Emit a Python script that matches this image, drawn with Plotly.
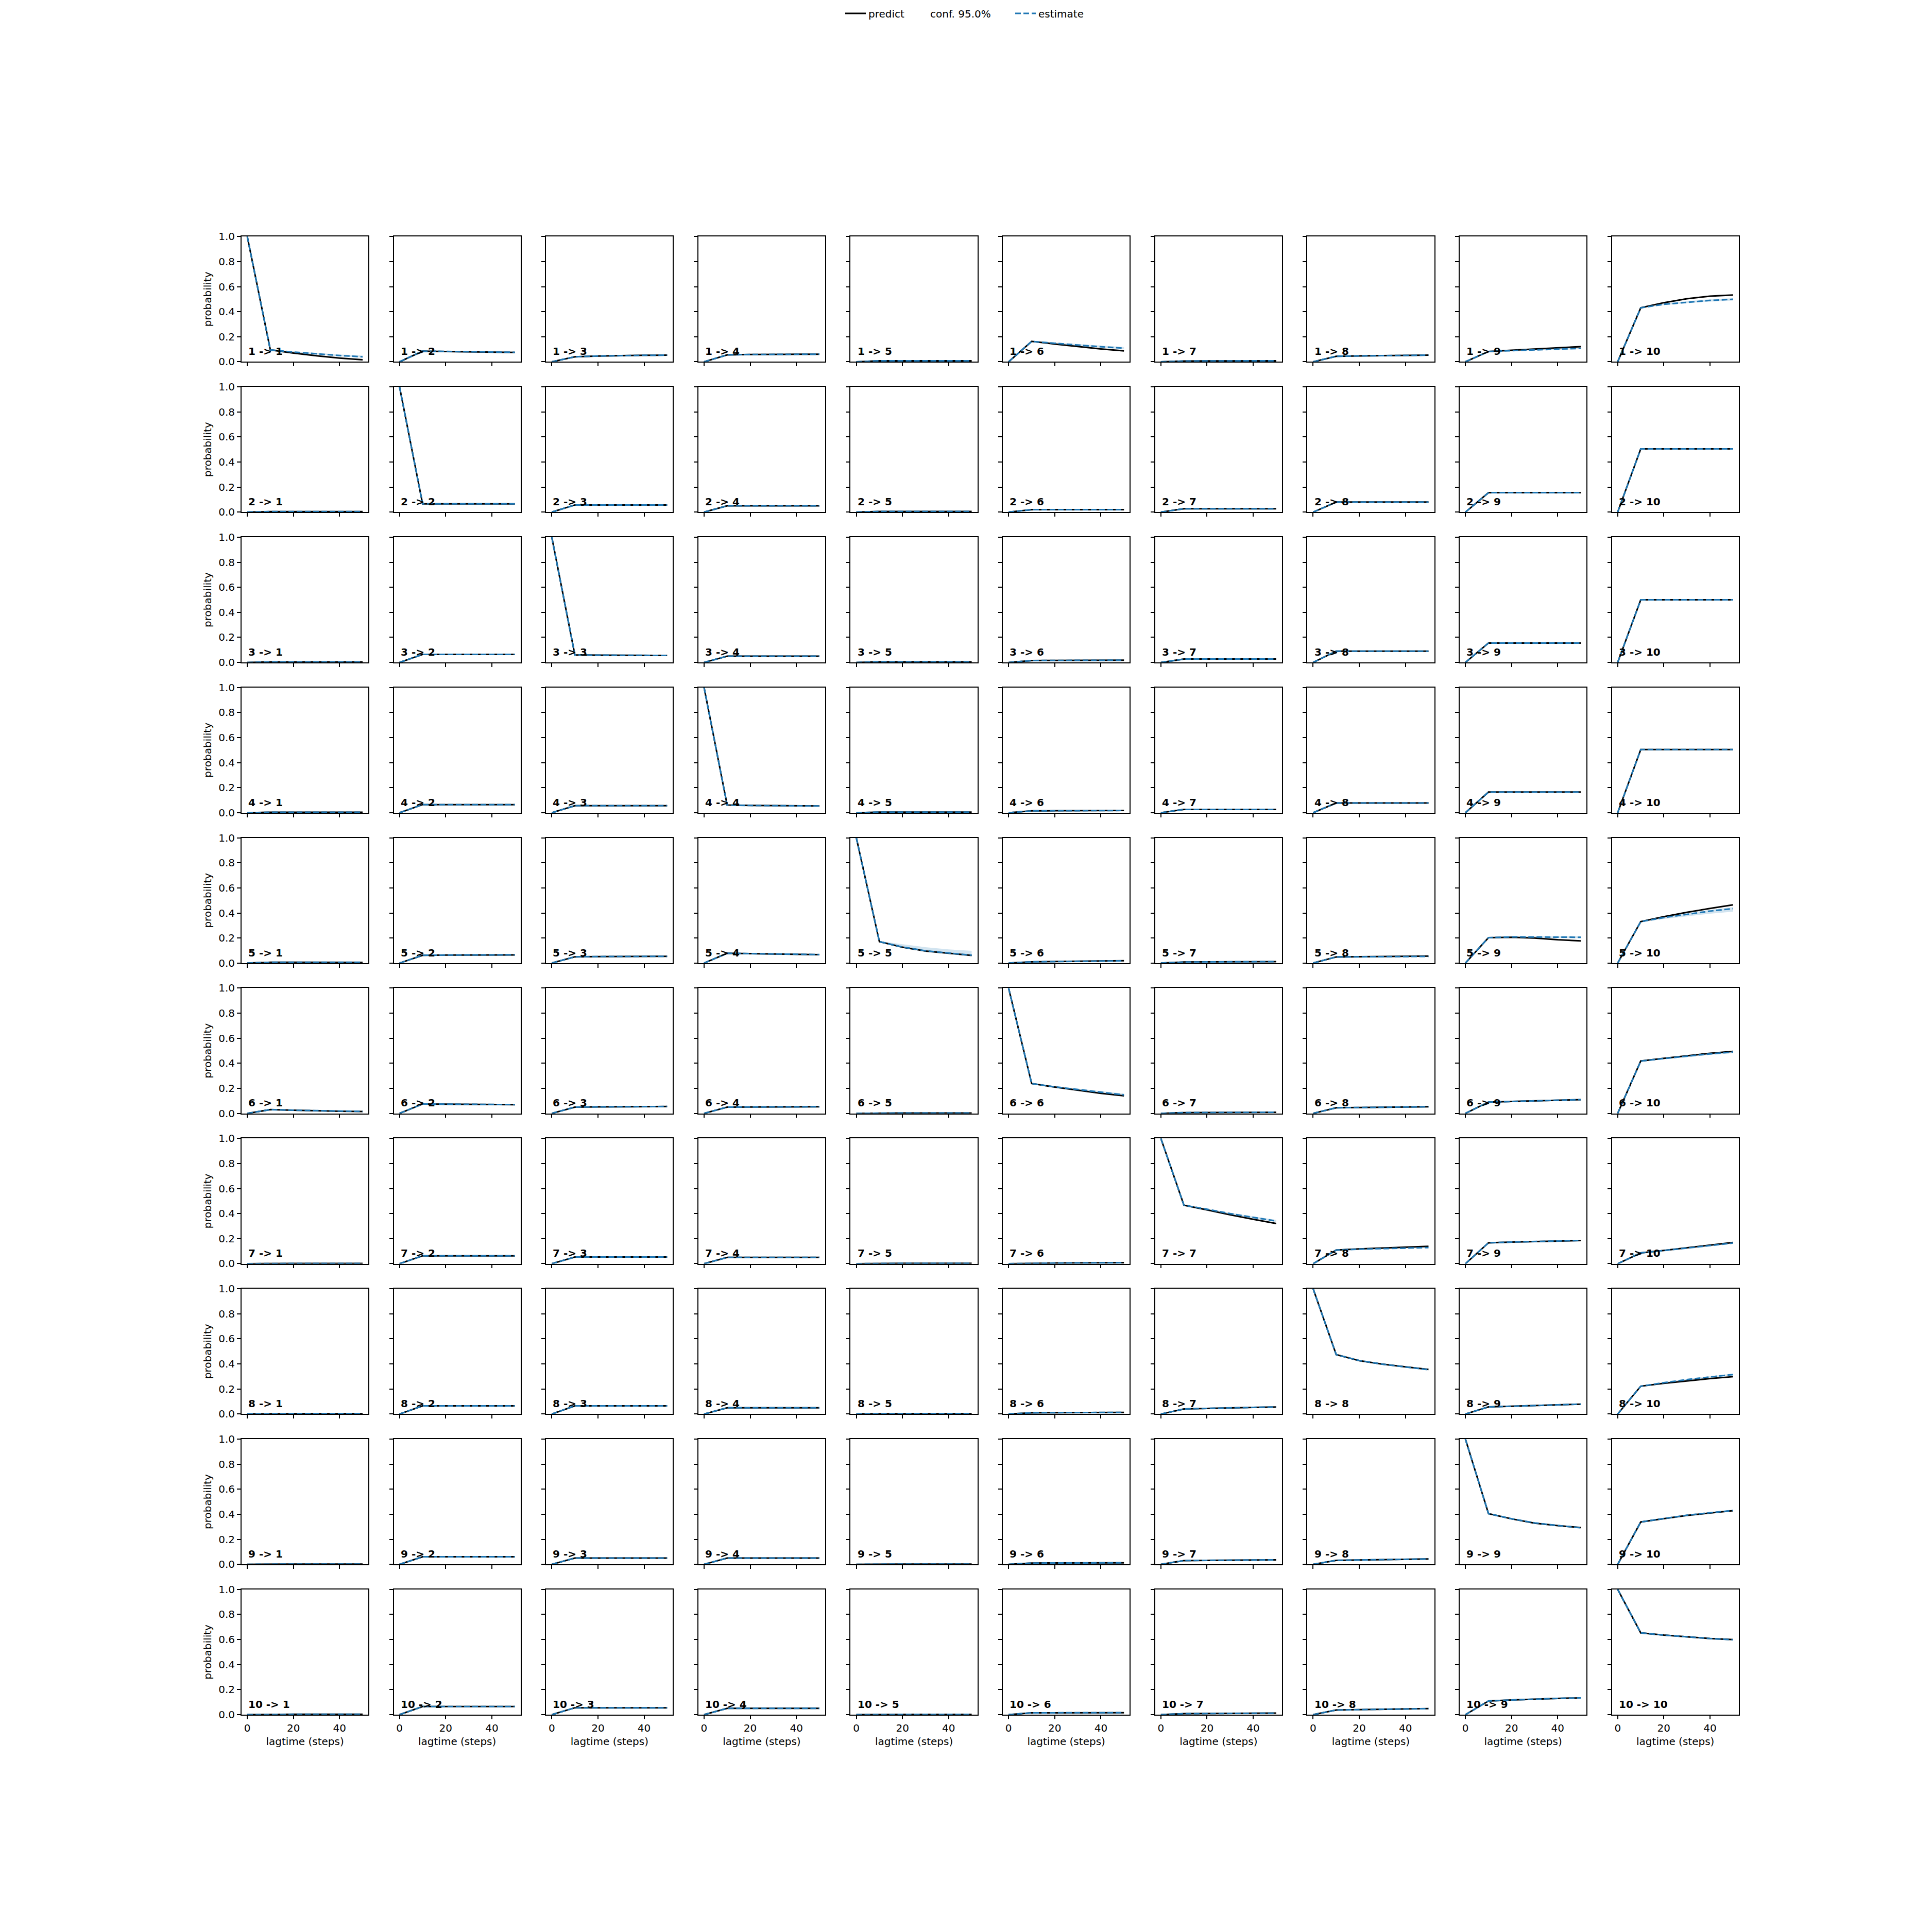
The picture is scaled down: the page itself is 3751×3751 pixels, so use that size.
import plotly.graph_objects as go

# ---------------- data ----------------
lagtimes = [0, 10, 20, 30, 40, 50]
states = [1, 2, 3, 4, 5, 6, 7, 8, 9, 10]
x_ticks = [0, 20, 40]
y_ticks = [0.0, 0.2, 0.4, 0.6, 0.8, 1.0]
legend_names = ["predict", "conf. 95.0%", "estimate"]

# row i: transitions i -> 1..10, each list = values at lagtimes
predict_1 = [
    [1.0, 0.095, 0.070, 0.048, 0.030, 0.016],
    [0.0, 0.085, 0.082, 0.080, 0.078, 0.075],
    [0.0, 0.040, 0.046, 0.050, 0.052, 0.053],
    [0.0, 0.055, 0.058, 0.060, 0.060, 0.060],
    [0.0, 0.008, 0.008, 0.008, 0.008, 0.008],
    [0.0, 0.163, 0.142, 0.122, 0.103, 0.087],
    [0.0, 0.006, 0.007, 0.007, 0.008, 0.008],
    [0.0, 0.044, 0.047, 0.049, 0.051, 0.053],
    [0.0, 0.082, 0.092, 0.101, 0.111, 0.121],
    [0.0, 0.431, 0.472, 0.503, 0.524, 0.533],
]
estimate_1 = [
    [1.0, 0.095, 0.078, 0.063, 0.050, 0.040],
    [0.0, 0.085, 0.083, 0.080, 0.078, 0.076],
    [0.0, 0.040, 0.046, 0.050, 0.052, 0.053],
    [0.0, 0.055, 0.058, 0.060, 0.060, 0.061],
    [0.0, 0.008, 0.008, 0.008, 0.008, 0.008],
    [0.0, 0.163, 0.148, 0.133, 0.120, 0.109],
    [0.0, 0.006, 0.007, 0.007, 0.008, 0.008],
    [0.0, 0.044, 0.047, 0.049, 0.051, 0.053],
    [0.0, 0.082, 0.089, 0.095, 0.101, 0.107],
    [0.0, 0.431, 0.459, 0.476, 0.490, 0.499],
]
conf_lo_1 = [
    [1.0, 0.093, 0.073, 0.057, 0.044, 0.034],
    [0.0, 0.083, 0.080, 0.077, 0.075, 0.073],
    [0.0, 0.039, 0.044, 0.048, 0.050, 0.051],
    [0.0, 0.053, 0.056, 0.058, 0.058, 0.059],
    [0.0, 0.007, 0.007, 0.007, 0.007, 0.007],
    [0.0, 0.160, 0.143, 0.127, 0.113, 0.101],
    [0.0, 0.005, 0.006, 0.006, 0.007, 0.007],
    [0.0, 0.042, 0.045, 0.047, 0.049, 0.050],
    [0.0, 0.080, 0.086, 0.091, 0.097, 0.102],
    [0.0, 0.428, 0.453, 0.468, 0.481, 0.489],
]
conf_hi_1 = [
    [1.0, 0.097, 0.084, 0.070, 0.058, 0.050],
    [0.0, 0.087, 0.086, 0.083, 0.081, 0.079],
    [0.0, 0.041, 0.048, 0.052, 0.054, 0.055],
    [0.0, 0.057, 0.060, 0.062, 0.062, 0.063],
    [0.0, 0.009, 0.009, 0.009, 0.009, 0.009],
    [0.0, 0.166, 0.154, 0.141, 0.129, 0.118],
    [0.0, 0.007, 0.008, 0.008, 0.009, 0.009],
    [0.0, 0.046, 0.049, 0.051, 0.053, 0.056],
    [0.0, 0.084, 0.092, 0.099, 0.105, 0.112],
    [0.0, 0.434, 0.465, 0.484, 0.499, 0.508],
]

predict_2 = [
    [0.0, 0.004, 0.004, 0.004, 0.004, 0.004],
    [1.0, 0.066, 0.066, 0.066, 0.066, 0.066],
    [0.0, 0.057, 0.057, 0.057, 0.057, 0.057],
    [0.0, 0.050, 0.050, 0.050, 0.050, 0.050],
    [0.0, 0.005, 0.005, 0.005, 0.005, 0.005],
    [0.0, 0.020, 0.020, 0.020, 0.020, 0.020],
    [0.0, 0.027, 0.027, 0.027, 0.027, 0.027],
    [0.0, 0.080, 0.080, 0.080, 0.080, 0.080],
    [0.0, 0.155, 0.155, 0.155, 0.155, 0.155],
    [0.0, 0.505, 0.505, 0.505, 0.505, 0.505],
]
estimate_2 = [
    [0.0, 0.004, 0.004, 0.004, 0.004, 0.004],
    [1.0, 0.066, 0.066, 0.066, 0.066, 0.066],
    [0.0, 0.057, 0.057, 0.057, 0.057, 0.057],
    [0.0, 0.050, 0.050, 0.050, 0.050, 0.050],
    [0.0, 0.005, 0.005, 0.005, 0.005, 0.005],
    [0.0, 0.020, 0.020, 0.020, 0.020, 0.020],
    [0.0, 0.027, 0.027, 0.027, 0.027, 0.027],
    [0.0, 0.080, 0.080, 0.080, 0.080, 0.080],
    [0.0, 0.155, 0.155, 0.155, 0.155, 0.155],
    [0.0, 0.505, 0.505, 0.505, 0.505, 0.505],
]
conf_lo_2 = [
    [0.0, 0.003, 0.003, 0.003, 0.003, 0.003],
    [1.0, 0.064, 0.064, 0.064, 0.064, 0.064],
    [0.0, 0.055, 0.055, 0.055, 0.055, 0.055],
    [0.0, 0.048, 0.048, 0.048, 0.048, 0.048],
    [0.0, 0.004, 0.004, 0.004, 0.004, 0.004],
    [0.0, 0.018, 0.018, 0.018, 0.018, 0.018],
    [0.0, 0.025, 0.025, 0.025, 0.025, 0.025],
    [0.0, 0.077, 0.077, 0.077, 0.077, 0.077],
    [0.0, 0.152, 0.152, 0.152, 0.152, 0.152],
    [0.0, 0.501, 0.501, 0.501, 0.501, 0.501],
]
conf_hi_2 = [
    [0.0, 0.005, 0.005, 0.005, 0.005, 0.005],
    [1.0, 0.068, 0.068, 0.068, 0.068, 0.068],
    [0.0, 0.059, 0.059, 0.059, 0.059, 0.059],
    [0.0, 0.052, 0.052, 0.052, 0.052, 0.052],
    [0.0, 0.006, 0.006, 0.006, 0.006, 0.006],
    [0.0, 0.022, 0.022, 0.022, 0.022, 0.022],
    [0.0, 0.029, 0.029, 0.029, 0.029, 0.029],
    [0.0, 0.083, 0.083, 0.083, 0.083, 0.083],
    [0.0, 0.158, 0.158, 0.158, 0.158, 0.158],
    [0.0, 0.509, 0.509, 0.509, 0.509, 0.509],
]

predict_3 = [
    [0.0, 0.004, 0.004, 0.004, 0.004, 0.004],
    [0.0, 0.064, 0.064, 0.064, 0.064, 0.064],
    [1.0, 0.060, 0.058, 0.057, 0.056, 0.056],
    [0.0, 0.050, 0.050, 0.050, 0.050, 0.050],
    [0.0, 0.005, 0.005, 0.005, 0.005, 0.005],
    [0.0, 0.015, 0.016, 0.017, 0.018, 0.018],
    [0.0, 0.027, 0.027, 0.027, 0.027, 0.027],
    [0.0, 0.090, 0.090, 0.090, 0.090, 0.090],
    [0.0, 0.155, 0.155, 0.155, 0.155, 0.155],
    [0.0, 0.500, 0.500, 0.500, 0.500, 0.500],
]
estimate_3 = [
    [0.0, 0.004, 0.004, 0.004, 0.004, 0.004],
    [0.0, 0.064, 0.064, 0.064, 0.064, 0.064],
    [1.0, 0.060, 0.058, 0.057, 0.056, 0.056],
    [0.0, 0.050, 0.050, 0.050, 0.050, 0.050],
    [0.0, 0.005, 0.005, 0.005, 0.005, 0.005],
    [0.0, 0.015, 0.016, 0.017, 0.018, 0.018],
    [0.0, 0.027, 0.027, 0.027, 0.027, 0.027],
    [0.0, 0.090, 0.090, 0.090, 0.090, 0.090],
    [0.0, 0.155, 0.155, 0.155, 0.155, 0.155],
    [0.0, 0.500, 0.500, 0.500, 0.500, 0.500],
]
conf_lo_3 = [
    [0.0, 0.003, 0.003, 0.003, 0.003, 0.003],
    [0.0, 0.062, 0.062, 0.062, 0.062, 0.062],
    [1.0, 0.058, 0.056, 0.055, 0.054, 0.054],
    [0.0, 0.048, 0.048, 0.048, 0.048, 0.048],
    [0.0, 0.004, 0.004, 0.004, 0.004, 0.004],
    [0.0, 0.013, 0.014, 0.015, 0.016, 0.016],
    [0.0, 0.025, 0.025, 0.025, 0.025, 0.025],
    [0.0, 0.087, 0.087, 0.087, 0.087, 0.087],
    [0.0, 0.152, 0.152, 0.152, 0.152, 0.152],
    [0.0, 0.496, 0.496, 0.496, 0.496, 0.496],
]
conf_hi_3 = [
    [0.0, 0.005, 0.005, 0.005, 0.005, 0.005],
    [0.0, 0.066, 0.066, 0.066, 0.066, 0.066],
    [1.0, 0.062, 0.060, 0.059, 0.058, 0.058],
    [0.0, 0.052, 0.052, 0.052, 0.052, 0.052],
    [0.0, 0.006, 0.006, 0.006, 0.006, 0.006],
    [0.0, 0.017, 0.018, 0.019, 0.020, 0.020],
    [0.0, 0.029, 0.029, 0.029, 0.029, 0.029],
    [0.0, 0.093, 0.093, 0.093, 0.093, 0.093],
    [0.0, 0.158, 0.158, 0.158, 0.158, 0.158],
    [0.0, 0.504, 0.504, 0.504, 0.504, 0.504],
]

predict_4 = [
    [0.0, 0.004, 0.004, 0.004, 0.004, 0.004],
    [0.0, 0.065, 0.065, 0.065, 0.065, 0.065],
    [0.0, 0.056, 0.056, 0.056, 0.056, 0.056],
    [1.0, 0.062, 0.058, 0.056, 0.055, 0.054],
    [0.0, 0.005, 0.005, 0.005, 0.005, 0.005],
    [0.0, 0.015, 0.016, 0.017, 0.018, 0.018],
    [0.0, 0.027, 0.027, 0.027, 0.027, 0.027],
    [0.0, 0.078, 0.078, 0.078, 0.078, 0.078],
    [0.0, 0.165, 0.165, 0.165, 0.165, 0.165],
    [0.0, 0.505, 0.505, 0.505, 0.505, 0.505],
]
estimate_4 = [
    [0.0, 0.004, 0.004, 0.004, 0.004, 0.004],
    [0.0, 0.065, 0.065, 0.065, 0.065, 0.065],
    [0.0, 0.056, 0.056, 0.056, 0.056, 0.056],
    [1.0, 0.062, 0.058, 0.056, 0.055, 0.054],
    [0.0, 0.005, 0.005, 0.005, 0.005, 0.005],
    [0.0, 0.015, 0.016, 0.017, 0.018, 0.018],
    [0.0, 0.027, 0.027, 0.027, 0.027, 0.027],
    [0.0, 0.078, 0.078, 0.078, 0.078, 0.078],
    [0.0, 0.165, 0.165, 0.165, 0.165, 0.165],
    [0.0, 0.505, 0.505, 0.505, 0.505, 0.505],
]
conf_lo_4 = [
    [0.0, 0.003, 0.003, 0.003, 0.003, 0.003],
    [0.0, 0.063, 0.063, 0.063, 0.063, 0.063],
    [0.0, 0.054, 0.054, 0.054, 0.054, 0.054],
    [1.0, 0.060, 0.056, 0.054, 0.053, 0.052],
    [0.0, 0.004, 0.004, 0.004, 0.004, 0.004],
    [0.0, 0.013, 0.014, 0.015, 0.016, 0.016],
    [0.0, 0.025, 0.025, 0.025, 0.025, 0.025],
    [0.0, 0.075, 0.075, 0.075, 0.075, 0.075],
    [0.0, 0.162, 0.162, 0.162, 0.162, 0.162],
    [0.0, 0.501, 0.501, 0.501, 0.501, 0.501],
]
conf_hi_4 = [
    [0.0, 0.005, 0.005, 0.005, 0.005, 0.005],
    [0.0, 0.067, 0.067, 0.067, 0.067, 0.067],
    [0.0, 0.058, 0.058, 0.058, 0.058, 0.058],
    [1.0, 0.064, 0.060, 0.058, 0.057, 0.056],
    [0.0, 0.006, 0.006, 0.006, 0.006, 0.006],
    [0.0, 0.017, 0.018, 0.019, 0.020, 0.020],
    [0.0, 0.029, 0.029, 0.029, 0.029, 0.029],
    [0.0, 0.081, 0.081, 0.081, 0.081, 0.081],
    [0.0, 0.168, 0.168, 0.168, 0.168, 0.168],
    [0.0, 0.509, 0.509, 0.509, 0.509, 0.509],
]

predict_5 = [
    [0.0, 0.006, 0.006, 0.006, 0.006, 0.005],
    [0.0, 0.062, 0.064, 0.065, 0.065, 0.065],
    [0.0, 0.050, 0.052, 0.053, 0.054, 0.054],
    [0.0, 0.078, 0.075, 0.072, 0.070, 0.067],
    [1.0, 0.171, 0.127, 0.096, 0.078, 0.061],
    [0.0, 0.010, 0.013, 0.015, 0.017, 0.019],
    [0.0, 0.008, 0.009, 0.010, 0.011, 0.012],
    [0.0, 0.049, 0.051, 0.053, 0.055, 0.056],
    [0.0, 0.203, 0.206, 0.200, 0.186, 0.177],
    [0.0, 0.331, 0.370, 0.405, 0.436, 0.465],
]
estimate_5 = [
    [0.0, 0.006, 0.006, 0.006, 0.006, 0.006],
    [0.0, 0.062, 0.064, 0.065, 0.065, 0.066],
    [0.0, 0.050, 0.052, 0.053, 0.054, 0.054],
    [0.0, 0.078, 0.075, 0.073, 0.070, 0.068],
    [1.0, 0.171, 0.128, 0.098, 0.080, 0.063],
    [0.0, 0.010, 0.012, 0.014, 0.016, 0.018],
    [0.0, 0.008, 0.009, 0.010, 0.011, 0.012],
    [0.0, 0.049, 0.050, 0.051, 0.052, 0.053],
    [0.0, 0.203, 0.209, 0.208, 0.207, 0.206],
    [0.0, 0.331, 0.363, 0.390, 0.415, 0.435],
]
conf_lo_5 = [
    [0.0, 0.005, 0.005, 0.005, 0.005, 0.005],
    [0.0, 0.060, 0.062, 0.063, 0.063, 0.063],
    [0.0, 0.048, 0.050, 0.051, 0.052, 0.052],
    [0.0, 0.076, 0.073, 0.070, 0.067, 0.065],
    [1.0, 0.168, 0.124, 0.093, 0.075, 0.058],
    [0.0, 0.009, 0.011, 0.012, 0.014, 0.016],
    [0.0, 0.007, 0.008, 0.009, 0.010, 0.010],
    [0.0, 0.047, 0.048, 0.049, 0.050, 0.050],
    [0.0, 0.200, 0.204, 0.202, 0.200, 0.198],
    [0.0, 0.329, 0.352, 0.374, 0.394, 0.410],
]
conf_hi_5 = [
    [0.0, 0.007, 0.007, 0.007, 0.007, 0.007],
    [0.0, 0.064, 0.066, 0.067, 0.067, 0.068],
    [0.0, 0.052, 0.054, 0.055, 0.056, 0.056],
    [0.0, 0.080, 0.078, 0.076, 0.073, 0.071],
    [1.0, 0.175, 0.150, 0.127, 0.109, 0.098],
    [0.0, 0.011, 0.014, 0.016, 0.018, 0.020],
    [0.0, 0.009, 0.010, 0.011, 0.012, 0.014],
    [0.0, 0.051, 0.053, 0.054, 0.055, 0.057],
    [0.0, 0.206, 0.214, 0.215, 0.214, 0.214],
    [0.0, 0.334, 0.372, 0.400, 0.425, 0.446],
]

predict_6 = [
    [0.0, 0.030, 0.025, 0.020, 0.017, 0.015],
    [0.0, 0.075, 0.074, 0.073, 0.071, 0.070],
    [0.0, 0.050, 0.052, 0.053, 0.054, 0.055],
    [0.0, 0.050, 0.051, 0.052, 0.053, 0.053],
    [0.0, 0.003, 0.003, 0.003, 0.003, 0.003],
    [1.0, 0.238, 0.210, 0.185, 0.160, 0.140],
    [0.0, 0.006, 0.007, 0.008, 0.009, 0.009],
    [0.0, 0.045, 0.047, 0.049, 0.051, 0.053],
    [0.0, 0.090, 0.095, 0.100, 0.105, 0.110],
    [0.0, 0.418, 0.440, 0.460, 0.480, 0.495],
]
estimate_6 = [
    [0.0, 0.030, 0.025, 0.021, 0.018, 0.016],
    [0.0, 0.075, 0.074, 0.073, 0.071, 0.070],
    [0.0, 0.050, 0.052, 0.053, 0.054, 0.055],
    [0.0, 0.050, 0.051, 0.052, 0.053, 0.053],
    [0.0, 0.003, 0.003, 0.003, 0.003, 0.003],
    [1.0, 0.238, 0.212, 0.190, 0.168, 0.148],
    [0.0, 0.006, 0.007, 0.008, 0.009, 0.009],
    [0.0, 0.045, 0.047, 0.049, 0.051, 0.053],
    [0.0, 0.090, 0.095, 0.100, 0.105, 0.110],
    [0.0, 0.418, 0.438, 0.457, 0.475, 0.490],
]
conf_lo_6 = [
    [0.0, 0.028, 0.023, 0.019, 0.016, 0.014],
    [0.0, 0.073, 0.072, 0.071, 0.069, 0.068],
    [0.0, 0.048, 0.050, 0.051, 0.052, 0.053],
    [0.0, 0.048, 0.049, 0.050, 0.051, 0.051],
    [0.0, 0.002, 0.002, 0.002, 0.002, 0.002],
    [1.0, 0.235, 0.206, 0.182, 0.158, 0.137],
    [0.0, 0.005, 0.006, 0.007, 0.008, 0.008],
    [0.0, 0.043, 0.045, 0.047, 0.049, 0.051],
    [0.0, 0.088, 0.093, 0.097, 0.102, 0.107],
    [0.0, 0.415, 0.433, 0.450, 0.467, 0.481],
]
conf_hi_6 = [
    [0.0, 0.032, 0.027, 0.023, 0.020, 0.018],
    [0.0, 0.077, 0.076, 0.075, 0.073, 0.072],
    [0.0, 0.052, 0.054, 0.055, 0.056, 0.057],
    [0.0, 0.052, 0.053, 0.054, 0.055, 0.055],
    [0.0, 0.004, 0.004, 0.004, 0.004, 0.004],
    [1.0, 0.241, 0.218, 0.197, 0.177, 0.158],
    [0.0, 0.007, 0.008, 0.009, 0.010, 0.010],
    [0.0, 0.047, 0.049, 0.051, 0.053, 0.055],
    [0.0, 0.092, 0.097, 0.103, 0.108, 0.113],
    [0.0, 0.421, 0.443, 0.464, 0.483, 0.499],
]

predict_7 = [
    [0.0, 0.002, 0.002, 0.002, 0.002, 0.002],
    [0.0, 0.063, 0.063, 0.063, 0.063, 0.063],
    [0.0, 0.053, 0.053, 0.053, 0.053, 0.053],
    [0.0, 0.050, 0.050, 0.050, 0.050, 0.050],
    [0.0, 0.003, 0.003, 0.003, 0.003, 0.003],
    [0.0, 0.004, 0.005, 0.006, 0.007, 0.008],
    [1.0, 0.467, 0.430, 0.390, 0.355, 0.321],
    [0.0, 0.109, 0.118, 0.126, 0.133, 0.139],
    [0.0, 0.167, 0.173, 0.178, 0.182, 0.185],
    [0.0, 0.086, 0.106, 0.127, 0.148, 0.170],
]
estimate_7 = [
    [0.0, 0.002, 0.002, 0.002, 0.002, 0.002],
    [0.0, 0.063, 0.063, 0.063, 0.063, 0.063],
    [0.0, 0.053, 0.053, 0.053, 0.053, 0.053],
    [0.0, 0.050, 0.050, 0.050, 0.050, 0.050],
    [0.0, 0.003, 0.003, 0.003, 0.003, 0.003],
    [0.0, 0.004, 0.005, 0.006, 0.007, 0.008],
    [1.0, 0.467, 0.435, 0.400, 0.370, 0.341],
    [0.0, 0.109, 0.116, 0.121, 0.125, 0.129],
    [0.0, 0.167, 0.173, 0.178, 0.182, 0.186],
    [0.0, 0.086, 0.105, 0.124, 0.144, 0.165],
]
conf_lo_7 = [
    [0.0, 0.001, 0.001, 0.001, 0.001, 0.001],
    [0.0, 0.061, 0.061, 0.061, 0.061, 0.061],
    [0.0, 0.051, 0.051, 0.051, 0.051, 0.051],
    [0.0, 0.048, 0.048, 0.048, 0.048, 0.048],
    [0.0, 0.002, 0.002, 0.002, 0.002, 0.002],
    [0.0, 0.003, 0.004, 0.005, 0.006, 0.007],
    [1.0, 0.464, 0.430, 0.394, 0.363, 0.333],
    [0.0, 0.107, 0.113, 0.118, 0.122, 0.126],
    [0.0, 0.165, 0.170, 0.175, 0.179, 0.182],
    [0.0, 0.084, 0.102, 0.121, 0.140, 0.160],
]
conf_hi_7 = [
    [0.0, 0.003, 0.003, 0.003, 0.003, 0.003],
    [0.0, 0.065, 0.065, 0.065, 0.065, 0.065],
    [0.0, 0.055, 0.055, 0.055, 0.055, 0.055],
    [0.0, 0.052, 0.052, 0.052, 0.052, 0.052],
    [0.0, 0.004, 0.004, 0.004, 0.004, 0.004],
    [0.0, 0.005, 0.006, 0.007, 0.008, 0.009],
    [1.0, 0.470, 0.440, 0.407, 0.378, 0.350],
    [0.0, 0.111, 0.119, 0.124, 0.128, 0.133],
    [0.0, 0.169, 0.176, 0.181, 0.186, 0.190],
    [0.0, 0.088, 0.108, 0.127, 0.148, 0.170],
]

predict_8 = [
    [0.0, 0.002, 0.002, 0.002, 0.002, 0.002],
    [0.0, 0.065, 0.065, 0.065, 0.065, 0.065],
    [0.0, 0.065, 0.065, 0.065, 0.065, 0.065],
    [0.0, 0.050, 0.050, 0.050, 0.050, 0.050],
    [0.0, 0.002, 0.002, 0.002, 0.002, 0.002],
    [0.0, 0.010, 0.011, 0.012, 0.012, 0.013],
    [0.0, 0.040, 0.045, 0.050, 0.053, 0.056],
    [1.0, 0.474, 0.426, 0.398, 0.377, 0.356],
    [0.0, 0.057, 0.062, 0.068, 0.074, 0.079],
    [0.0, 0.222, 0.245, 0.265, 0.283, 0.298],
]
estimate_8 = [
    [0.0, 0.002, 0.002, 0.002, 0.002, 0.002],
    [0.0, 0.065, 0.065, 0.065, 0.065, 0.065],
    [0.0, 0.065, 0.065, 0.065, 0.065, 0.065],
    [0.0, 0.050, 0.050, 0.050, 0.050, 0.050],
    [0.0, 0.002, 0.002, 0.002, 0.002, 0.002],
    [0.0, 0.010, 0.011, 0.012, 0.012, 0.013],
    [0.0, 0.040, 0.045, 0.050, 0.053, 0.056],
    [1.0, 0.474, 0.427, 0.398, 0.376, 0.354],
    [0.0, 0.057, 0.062, 0.068, 0.074, 0.079],
    [0.0, 0.222, 0.250, 0.275, 0.296, 0.315],
]
conf_lo_8 = [
    [0.0, 0.001, 0.001, 0.001, 0.001, 0.001],
    [0.0, 0.063, 0.063, 0.063, 0.063, 0.063],
    [0.0, 0.063, 0.063, 0.063, 0.063, 0.063],
    [0.0, 0.048, 0.048, 0.048, 0.048, 0.048],
    [0.0, 0.001, 0.001, 0.001, 0.001, 0.001],
    [0.0, 0.009, 0.010, 0.010, 0.010, 0.011],
    [0.0, 0.038, 0.043, 0.048, 0.051, 0.054],
    [1.0, 0.471, 0.423, 0.394, 0.371, 0.349],
    [0.0, 0.055, 0.060, 0.066, 0.071, 0.076],
    [0.0, 0.219, 0.246, 0.270, 0.290, 0.308],
]
conf_hi_8 = [
    [0.0, 0.003, 0.003, 0.003, 0.003, 0.003],
    [0.0, 0.067, 0.067, 0.067, 0.067, 0.067],
    [0.0, 0.067, 0.067, 0.067, 0.067, 0.067],
    [0.0, 0.052, 0.052, 0.052, 0.052, 0.052],
    [0.0, 0.003, 0.003, 0.003, 0.003, 0.003],
    [0.0, 0.011, 0.012, 0.014, 0.014, 0.015],
    [0.0, 0.042, 0.047, 0.052, 0.055, 0.058],
    [1.0, 0.477, 0.431, 0.402, 0.381, 0.359],
    [0.0, 0.059, 0.064, 0.070, 0.077, 0.082],
    [0.0, 0.225, 0.254, 0.280, 0.302, 0.322],
]

predict_9 = [
    [0.0, 0.002, 0.002, 0.002, 0.002, 0.002],
    [0.0, 0.060, 0.060, 0.060, 0.060, 0.060],
    [0.0, 0.050, 0.050, 0.050, 0.050, 0.050],
    [0.0, 0.050, 0.050, 0.050, 0.050, 0.050],
    [0.0, 0.002, 0.002, 0.002, 0.002, 0.002],
    [0.0, 0.010, 0.011, 0.011, 0.012, 0.012],
    [0.0, 0.030, 0.032, 0.034, 0.035, 0.036],
    [0.0, 0.032, 0.035, 0.038, 0.040, 0.043],
    [1.0, 0.405, 0.363, 0.329, 0.309, 0.294],
    [0.0, 0.338, 0.365, 0.390, 0.410, 0.428],
]
estimate_9 = [
    [0.0, 0.002, 0.002, 0.002, 0.002, 0.002],
    [0.0, 0.060, 0.060, 0.060, 0.060, 0.060],
    [0.0, 0.050, 0.050, 0.050, 0.050, 0.050],
    [0.0, 0.050, 0.050, 0.050, 0.050, 0.050],
    [0.0, 0.002, 0.002, 0.002, 0.002, 0.002],
    [0.0, 0.010, 0.011, 0.011, 0.012, 0.012],
    [0.0, 0.030, 0.032, 0.034, 0.035, 0.036],
    [0.0, 0.032, 0.035, 0.038, 0.040, 0.043],
    [1.0, 0.405, 0.364, 0.331, 0.310, 0.292],
    [0.0, 0.338, 0.366, 0.392, 0.412, 0.430],
]
conf_lo_9 = [
    [0.0, 0.001, 0.001, 0.001, 0.001, 0.001],
    [0.0, 0.058, 0.058, 0.058, 0.058, 0.058],
    [0.0, 0.048, 0.048, 0.048, 0.048, 0.048],
    [0.0, 0.048, 0.048, 0.048, 0.048, 0.048],
    [0.0, 0.001, 0.001, 0.001, 0.001, 0.001],
    [0.0, 0.009, 0.010, 0.010, 0.011, 0.011],
    [0.0, 0.028, 0.030, 0.032, 0.033, 0.034],
    [0.0, 0.030, 0.033, 0.036, 0.038, 0.041],
    [1.0, 0.402, 0.360, 0.327, 0.305, 0.287],
    [0.0, 0.335, 0.362, 0.388, 0.408, 0.425],
]
conf_hi_9 = [
    [0.0, 0.003, 0.003, 0.003, 0.003, 0.003],
    [0.0, 0.062, 0.062, 0.062, 0.062, 0.062],
    [0.0, 0.052, 0.052, 0.052, 0.052, 0.052],
    [0.0, 0.052, 0.052, 0.052, 0.052, 0.052],
    [0.0, 0.003, 0.003, 0.003, 0.003, 0.003],
    [0.0, 0.011, 0.012, 0.012, 0.013, 0.013],
    [0.0, 0.032, 0.034, 0.036, 0.037, 0.038],
    [0.0, 0.034, 0.037, 0.040, 0.042, 0.045],
    [1.0, 0.408, 0.368, 0.335, 0.315, 0.297],
    [0.0, 0.341, 0.370, 0.396, 0.416, 0.435],
]

predict_10 = [
    [0.0, 0.003, 0.003, 0.003, 0.003, 0.003],
    [0.0, 0.065, 0.065, 0.065, 0.065, 0.065],
    [0.0, 0.055, 0.055, 0.055, 0.055, 0.055],
    [0.0, 0.050, 0.050, 0.050, 0.050, 0.050],
    [0.0, 0.002, 0.002, 0.002, 0.002, 0.002],
    [0.0, 0.015, 0.015, 0.015, 0.016, 0.016],
    [0.0, 0.008, 0.009, 0.010, 0.011, 0.012],
    [0.0, 0.037, 0.040, 0.043, 0.046, 0.048],
    [0.0, 0.109, 0.117, 0.124, 0.130, 0.134],
    [1.0, 0.653, 0.635, 0.620, 0.608, 0.599],
]
estimate_10 = [
    [0.0, 0.003, 0.003, 0.003, 0.003, 0.003],
    [0.0, 0.065, 0.065, 0.065, 0.065, 0.065],
    [0.0, 0.055, 0.055, 0.055, 0.055, 0.055],
    [0.0, 0.050, 0.050, 0.050, 0.050, 0.050],
    [0.0, 0.002, 0.002, 0.002, 0.002, 0.002],
    [0.0, 0.015, 0.015, 0.015, 0.016, 0.016],
    [0.0, 0.008, 0.009, 0.010, 0.011, 0.012],
    [0.0, 0.037, 0.040, 0.043, 0.046, 0.048],
    [0.0, 0.109, 0.117, 0.124, 0.130, 0.134],
    [1.0, 0.653, 0.635, 0.620, 0.608, 0.598],
]
conf_lo_10 = [
    [0.0, 0.002, 0.002, 0.002, 0.002, 0.002],
    [0.0, 0.063, 0.063, 0.063, 0.063, 0.063],
    [0.0, 0.053, 0.053, 0.053, 0.053, 0.053],
    [0.0, 0.048, 0.048, 0.048, 0.048, 0.048],
    [0.0, 0.001, 0.001, 0.001, 0.001, 0.001],
    [0.0, 0.013, 0.013, 0.013, 0.014, 0.014],
    [0.0, 0.007, 0.008, 0.009, 0.010, 0.010],
    [0.0, 0.035, 0.038, 0.041, 0.044, 0.046],
    [0.0, 0.107, 0.115, 0.121, 0.127, 0.131],
    [1.0, 0.650, 0.632, 0.616, 0.604, 0.594],
]
conf_hi_10 = [
    [0.0, 0.004, 0.004, 0.004, 0.004, 0.004],
    [0.0, 0.067, 0.067, 0.067, 0.067, 0.067],
    [0.0, 0.057, 0.057, 0.057, 0.057, 0.057],
    [0.0, 0.052, 0.052, 0.052, 0.052, 0.052],
    [0.0, 0.003, 0.003, 0.003, 0.003, 0.003],
    [0.0, 0.017, 0.017, 0.017, 0.018, 0.018],
    [0.0, 0.009, 0.010, 0.011, 0.012, 0.014],
    [0.0, 0.039, 0.042, 0.045, 0.048, 0.050],
    [0.0, 0.111, 0.119, 0.127, 0.133, 0.137],
    [1.0, 0.656, 0.638, 0.624, 0.612, 0.602],
]

predict = [predict_1, predict_2, predict_3, predict_4, predict_5,
           predict_6, predict_7, predict_8, predict_9, predict_10]
estimate = [estimate_1, estimate_2, estimate_3, estimate_4, estimate_5,
            estimate_6, estimate_7, estimate_8, estimate_9, estimate_10]
conf_lo = [conf_lo_1, conf_lo_2, conf_lo_3, conf_lo_4, conf_lo_5,
           conf_lo_6, conf_lo_7, conf_lo_8, conf_lo_9, conf_lo_10]
conf_hi = [conf_hi_1, conf_hi_2, conf_hi_3, conf_hi_4, conf_hi_5,
           conf_hi_6, conf_hi_7, conf_hi_8, conf_hi_9, conf_hi_10]

# ---------------- layout / style ----------------
W = H = 3751
N = len(states)
LEFT, RIGHT, BOTTOM, TOP = 0.125, 0.9, 0.11, 0.88
aw = (RIGHT - LEFT) / (N + (N - 1) * 0.2)
ah = (TOP - BOTTOM) / (N + (N - 1) * 0.2)
FONT = "DejaVu Sans"
BLUE = "#1f77b4"
BAND = "rgba(31,119,180,0.2)"
LW = 3

fig = go.Figure()
layout_axes = {}
annotations = []

for i in range(N):
    for j in range(N):
        k = i * N + j + 1
        xs = "x" if k == 1 else f"x{k}"
        ys = "y" if k == 1 else f"y{k}"
        first = (k == 1)
        lo = conf_lo[i][j]
        hi = conf_hi[i][j]
        # confidence band
        fig.add_trace(go.Scatter(
            x=lagtimes + lagtimes[::-1], y=hi + lo[::-1],
            fill="toself", fillcolor=BAND, line=dict(width=0),
            mode="lines", showlegend=False, hoverinfo="skip",
            xaxis=xs, yaxis=ys))
        fig.add_trace(go.Scatter(
            x=lagtimes, y=predict[i][j], mode="lines",
            line=dict(color="black", width=LW),
            name=legend_names[0], legend="legend", showlegend=first,
            xaxis=xs, yaxis=ys))
        fig.add_trace(go.Scatter(
            x=lagtimes, y=estimate[i][j], mode="lines",
            line=dict(color=BLUE, width=LW, dash="11px,5px"),
            name=legend_names[2], legend="legend3", showlegend=first,
            xaxis=xs, yaxis=ys))

        x0 = LEFT + j * aw * 1.2
        y1 = TOP - i * ah * 1.2
        common = dict(showgrid=False, zeroline=False, showline=True,
                      linecolor="black", linewidth=1.6, mirror=True,
                      ticks="outside", ticklen=7, tickwidth=1.6,
                      tickcolor="black",
                      tickfont=dict(family=FONT, size=20, color="black"))
        xa = dict(common, domain=[x0, x0 + aw], anchor=ys,
                  range=[-2.5, 52.5], tickvals=x_ticks,
                  showticklabels=(i == N - 1))
        if i == N - 1:
            xa["title"] = dict(text="lagtime (steps)", standoff=8,
                               font=dict(family=FONT, size=20, color="black"))
        ya = dict(common, domain=[y1 - ah, y1], anchor=xs,
                  range=[0, 1], tickvals=y_ticks, tickformat=".1f",
                  showticklabels=(j == 0))
        if j == 0:
            ya["title"] = dict(text="probability", standoff=8,
                               font=dict(family=FONT, size=20, color="black"))
        layout_axes["xaxis" if k == 1 else f"xaxis{k}"] = xa
        layout_axes["yaxis" if k == 1 else f"yaxis{k}"] = ya

        annotations.append(dict(
            text=f"{states[i]} -> {states[j]}",
            x=0.05, y=0.05, xref=f"{xs} domain", yref=f"{ys} domain",
            xanchor="left", yanchor="bottom", showarrow=False,
            xshift=-1, yshift=-6,
            font=dict(family=FONT, size=20, color="black", weight="bold")))

# legend entry for the confidence band (blank handle)
fig.add_trace(go.Scatter(
    x=[None], y=[None], mode="lines",
    line=dict(color="rgba(0,0,0,0)", width=LW),
    name=legend_names[1], legend="legend2", showlegend=True,
    xaxis="x", yaxis="y"))

LEG_Y = 1 - 14 / H
leg_common = dict(orientation="h", xanchor="left", y=LEG_Y, yanchor="middle",
                  font=dict(family=FONT, size=20, color="black"),
                  itemwidth=40, bgcolor="rgba(0,0,0,0)", borderwidth=0)

fig.update_layout(
    width=W, height=H, autosize=False,
    margin=dict(l=0, r=0, t=0, b=0),
    paper_bgcolor="white", plot_bgcolor="white",
    font=dict(family=FONT, size=20, color="black"),
    showlegend=True,
    legend=dict(leg_common, x=1636 / W),
    legend2=dict(leg_common, x=1756 / W),
    legend3=dict(leg_common, x=1966 / W),
    annotations=annotations,
    **layout_axes,
)

fig.write_html(
    "out.html",
    config={"displayModeBar": False},
    post_script="document.body.style.margin='0px';"
                "document.body.style.padding='0px';",
)
